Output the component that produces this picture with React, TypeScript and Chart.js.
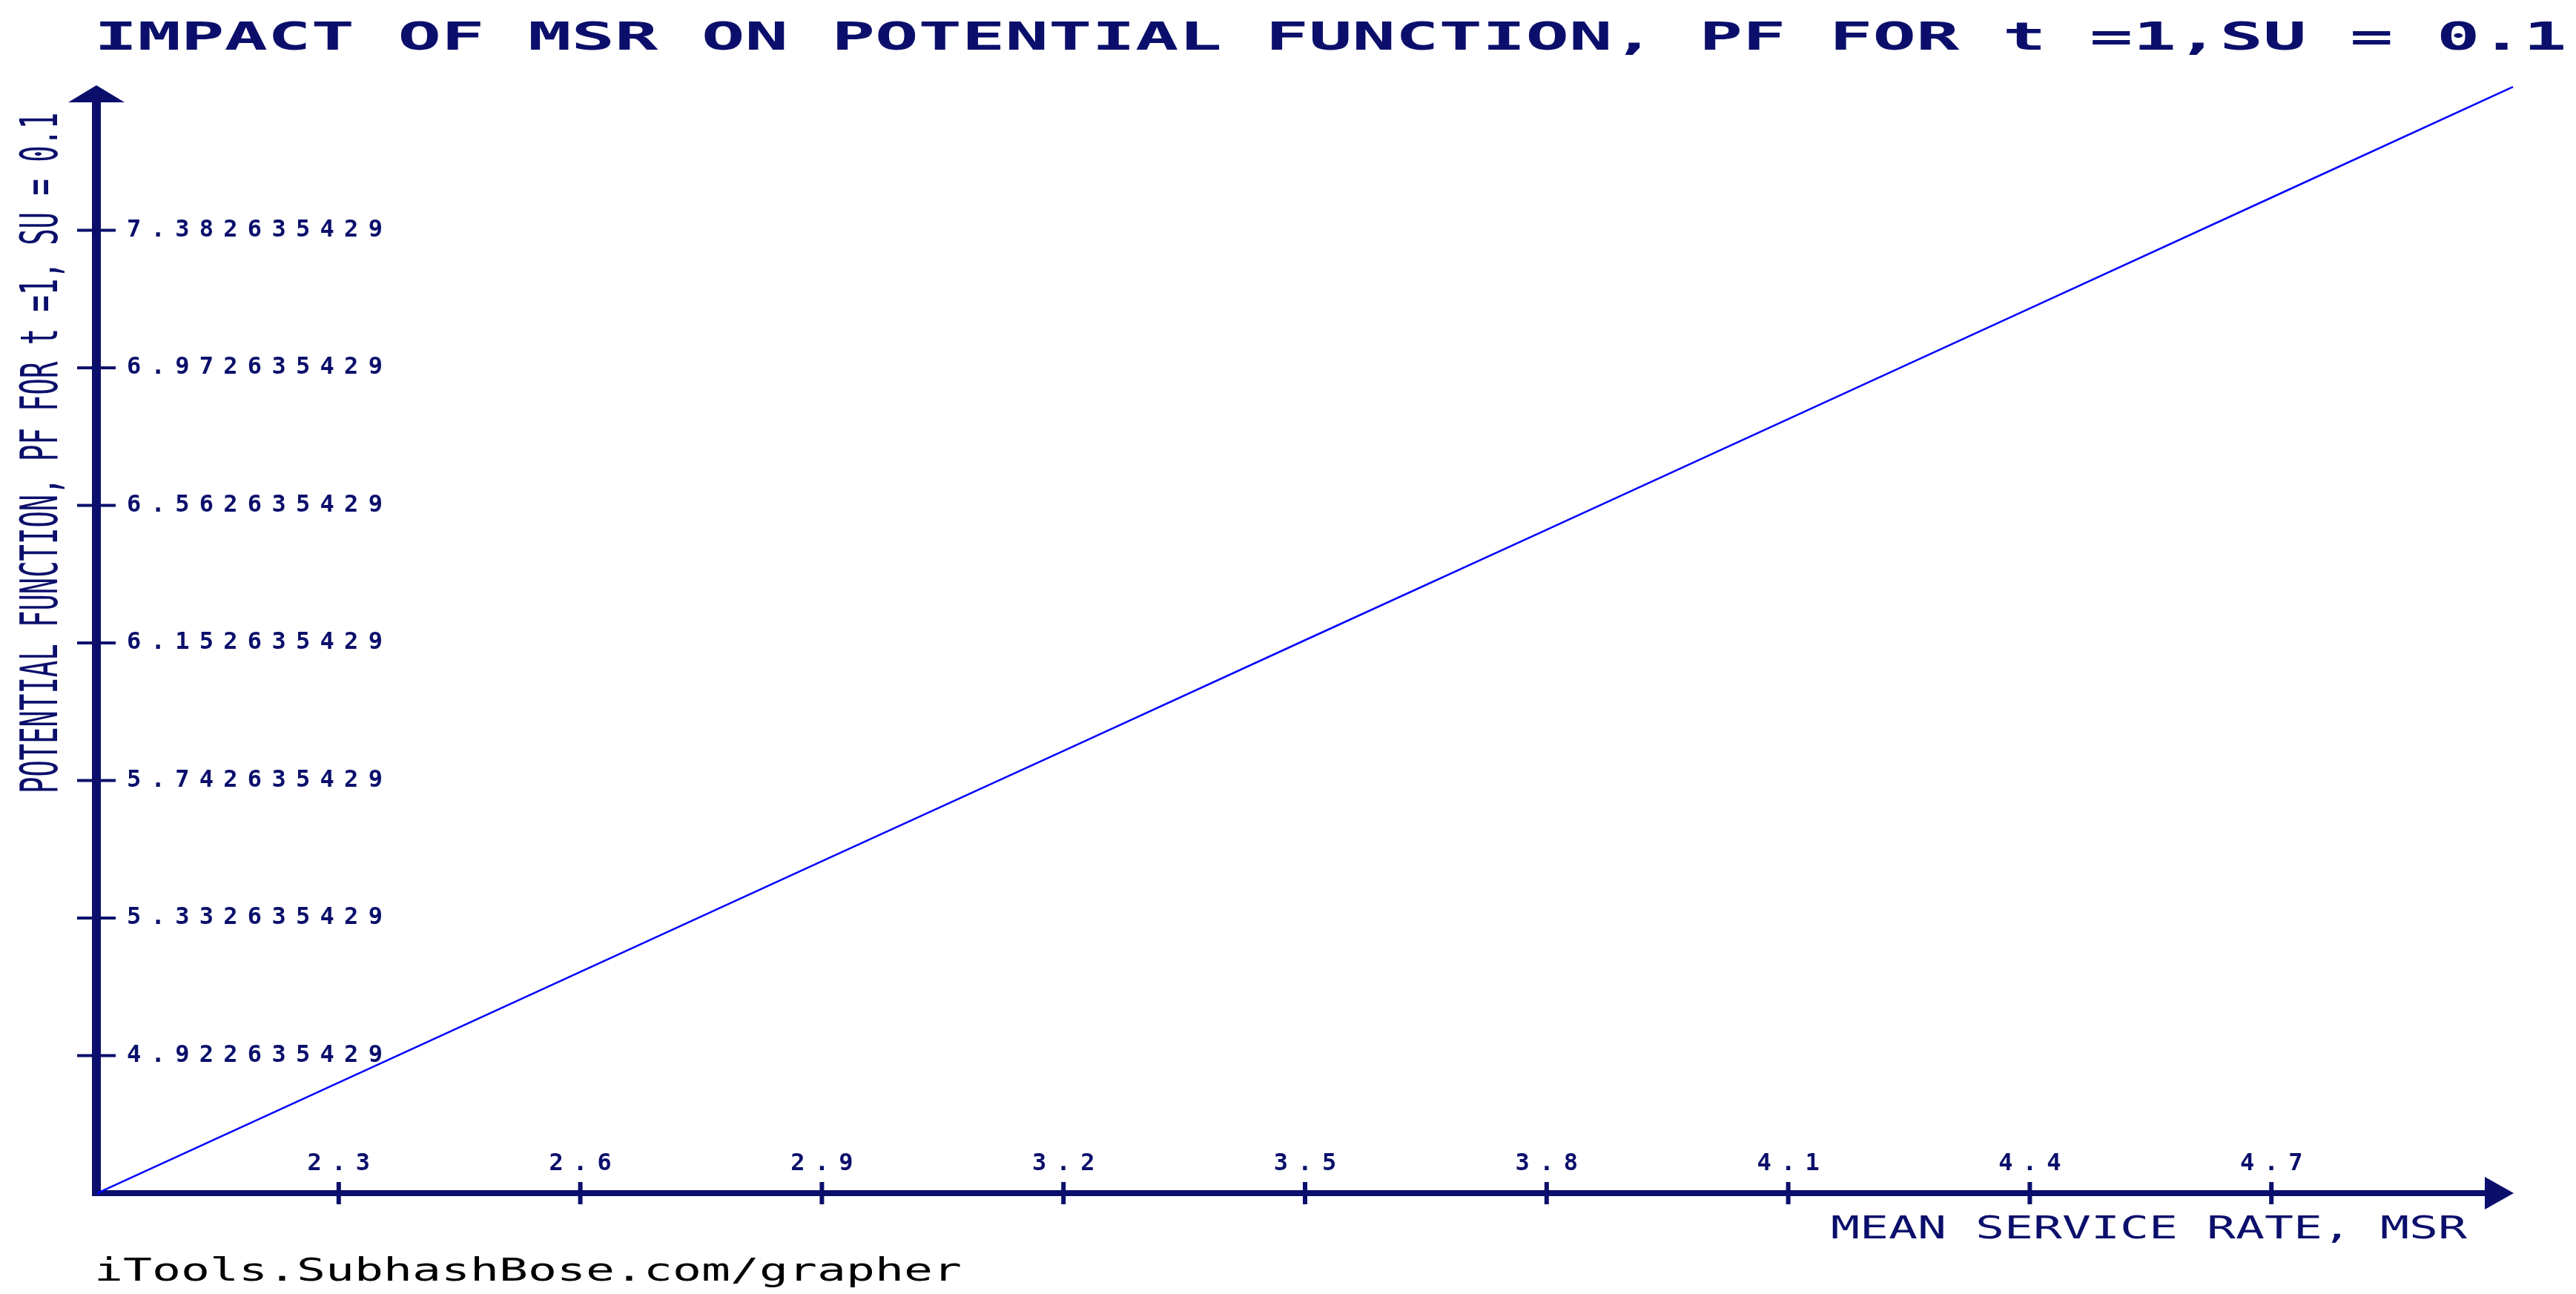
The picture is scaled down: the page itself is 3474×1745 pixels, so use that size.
import React, { useEffect, useRef } from "react";
import { Chart, registerables } from "chart.js";

Chart.register(...registerables);

// ---------- text ----------
const TITLE = "IMPACT OF MSR ON POTENTIAL FUNCTION, PF FOR t =1,SU = 0.1";
const X_TITLE = "MEAN SERVICE RATE, MSR";
const Y_TITLE = "POTENTIAL FUNCTION, PF FOR t =1, SU = 0.1";
const FOOTER = "iTools.SubhashBose.com/grapher";

// ---------- data ----------
const msr = [2.0, 2.3, 2.6, 2.9, 3.2, 3.5, 3.8, 4.1, 4.4, 4.7, 5.0];
const pf = [4.5126, 4.842, 5.172, 5.502, 5.831, 6.161, 6.49, 6.82, 7.15, 7.48, 7.81];

const xTickValues = [2.3, 2.6, 2.9, 3.2, 3.5, 3.8, 4.1, 4.4, 4.7];
const xTickLabels = ["2.3", "2.6", "2.9", "3.2", "3.5", "3.8", "4.1", "4.4", "4.7"];
const yTickValues = [4.922635429, 5.332635429, 5.742635429, 6.152635429, 6.562635429, 6.972635429, 7.382635429];
const yTickLabels = ["4.922635429", "5.332635429", "5.742635429", "6.152635429", "6.562635429", "6.972635429", "7.382635429"];

const X_MIN = 2.0;
const X_MAX = 5.0;
const Y_MIN = 4.512635429;
const Y_MAX = 7.812635429;

const NAVY = "#0b0f6b";
const MONO = '"DejaVu Sans Mono"';
const TICK_SPACING = 13.3;

function drawStretched(
  ctx: CanvasRenderingContext2D,
  text: string,
  x: number,
  baseline: number,
  fontPx: number,
  cell: number,
  weight: string,
  color: string,
  rotate = false
) {
  ctx.save();
  (ctx as any).letterSpacing = "0px";
  ctx.font = `${weight} ${fontPx}px ${MONO}`;
  const adv = ctx.measureText("M").width;
  const sx = cell / adv;
  ctx.translate(x, baseline);
  if (rotate) ctx.rotate(-Math.PI / 2);
  ctx.scale(sx, 1);
  ctx.fillStyle = color;
  ctx.textAlign = "left";
  ctx.textBaseline = "alphabetic";
  ctx.fillText(text, 0, 0);
  ctx.restore();
}

const decor = {
  id: "decor",
  beforeDraw(chart: any) {
    const ctx = chart.ctx as CanvasRenderingContext2D;
    ctx.save();
    ctx.fillStyle = "#ffffff";
    ctx.fillRect(0, 0, chart.width, chart.height);
    ctx.restore();
    (ctx as any).letterSpacing = `${TICK_SPACING}px`;
  },
  beforeDatasetsDraw(chart: any) {
    const ctx = chart.ctx as CanvasRenderingContext2D;
    const a = chart.chartArea;
    const xs = chart.scales.x;
    const ys = chart.scales.y;
    const ax = a.left - 1;
    const ay = a.bottom;
    ctx.save();
    ctx.fillStyle = NAVY;
    // y axis line + arrow
    const yArrowBase = a.top + 21;
    ctx.fillRect(ax - 6, yArrowBase, 12, ay + 4 - yArrowBase);
    ctx.beginPath();
    ctx.moveTo(ax, a.top - 1);
    ctx.lineTo(ax + 38, yArrowBase + 1);
    ctx.lineTo(ax - 38, yArrowBase + 1);
    ctx.closePath();
    ctx.fill();
    // x axis line + arrow
    const xArrowBase = a.right - 37;
    ctx.fillRect(ax - 6, ay - 4, xArrowBase - (ax - 6), 8);
    ctx.beginPath();
    ctx.moveTo(a.right + 1, ay);
    ctx.lineTo(xArrowBase - 1, ay - 22);
    ctx.lineTo(xArrowBase - 1, ay + 22);
    ctx.closePath();
    ctx.fill();
    // tick marks crossing the axes
    for (const t of ys.ticks) {
      const py = ys.getPixelForValue(t.value);
      ctx.fillRect(ax - 26, py - 2, 52, 4);
    }
    for (const t of xs.ticks) {
      const px = xs.getPixelForValue(t.value);
      ctx.fillRect(px - 3, ay - 15, 6, 30);
    }
    ctx.restore();
  },
  afterDatasetsDraw(chart: any) {
    // x tick labels (z = 1) are drawn next; compensate the trailing letter spacing
    const ctx = chart.ctx as CanvasRenderingContext2D;
    ctx.save();
    ctx.translate(TICK_SPACING / 2, 0);
  },
  afterDraw(chart: any) {
    const ctx = chart.ctx as CanvasRenderingContext2D;
    ctx.restore();
    drawStretched(ctx, TITLE, 127, 67, 52, 58.5, "bold", NAVY);
    drawStretched(ctx, Y_TITLE, 77, 1070, 70, 22.4, "normal", NAVY, true);
    drawStretched(ctx, X_TITLE, 2469, 1670, 42, 39, "normal", NAVY);
    drawStretched(ctx, FOOTER, 127, 1727, 42, 39, "normal", "#000000");
  },
};

export default function App() {
  const canvasRef = useRef<HTMLCanvasElement | null>(null);

  useEffect(() => {
    const canvas = canvasRef.current;
    if (!canvas) return;
    const tickFont = { family: MONO, size: 32, weight: "bold" as const };
    const chart = new Chart(canvas, {
      type: "line",
      data: {
        datasets: [
          {
            label: "PF",
            data: msr.map((x, i) => ({ x, y: pf[i] })),
            borderColor: "#0000ff",
            backgroundColor: "#0000ff",
            borderWidth: 2.5,
            pointRadius: 0,
            tension: 0,
            fill: false,
            clip: false as any,
          },
        ],
      },
      options: {
        responsive: false,
        animation: false,
        devicePixelRatio: 1,
        layout: { padding: { left: 131, right: 85, top: 116, bottom: 136 } },
        plugins: {
          legend: { display: false },
          title: { display: false },
          tooltip: { enabled: false },
        },
        scales: {
          x: {
            type: "linear",
            position: "bottom",
            min: X_MIN,
            max: X_MAX,
            grid: { display: false, drawTicks: false },
            border: { display: false },
            afterBuildTicks: (scale: any) => {
              scale.ticks = xTickValues.map((v) => ({ value: v }));
            },
            afterFit: (scale: any) => {
              scale.height = 0;
            },
            ticks: {
              z: 1,
              mirror: true,
              padding: 20,
              autoSkip: false,
              maxRotation: 0,
              minRotation: 0,
              color: NAVY,
              font: tickFont,
              callback: (_v: any, i: number) => xTickLabels[i],
            },
          },
          y: {
            type: "linear",
            position: "left",
            min: Y_MIN,
            max: Y_MAX,
            grid: { display: false, drawTicks: false },
            border: { display: false },
            afterBuildTicks: (scale: any) => {
              scale.ticks = yTickValues.map((v) => ({ value: v }));
            },
            afterFit: (scale: any) => {
              scale.width = 0;
            },
            ticks: {
              mirror: true,
              padding: 40,
              autoSkip: false,
              color: NAVY,
              font: tickFont,
              callback: (_v: any, i: number) => yTickLabels[i],
            },
          },
        },
      },
      plugins: [decor],
    });
    return () => chart.destroy();
  }, []);

  return (
    <div style={{ position: "fixed", left: 0, top: 0, width: 3474, height: 1745, background: "#ffffff" }}>
      <canvas ref={canvasRef} width={3474} height={1745} style={{ display: "block" }} />
    </div>
  );
}
